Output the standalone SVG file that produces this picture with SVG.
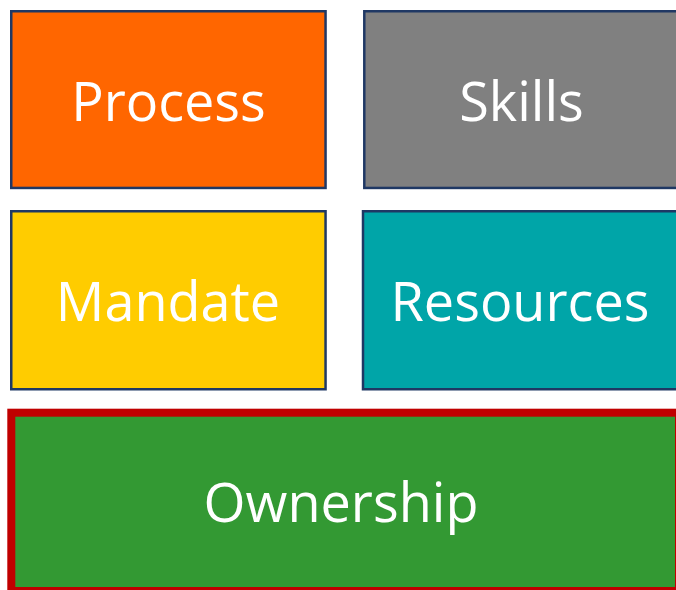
<svg xmlns="http://www.w3.org/2000/svg" width="676" height="590" viewBox="0 0 676 590">
<style>
.box{stroke:#1F3864;stroke-width:2.5}
.lbl{font-family:"Open Sans","Liberation Sans",sans-serif;font-size:54px;fill:#FFFFFF;text-anchor:middle}
</style>
<rect width="676" height="590" fill="#FFFFFF"/>
<g id="process">
<rect class="box" x="11.25" y="11.25" width="314.3" height="176.7" fill="#FF6600"/>
<text class="lbl" x="168.5" y="121">Process</text>
</g>
<g id="skills">
<rect class="box" x="364.3" y="11.25" width="330" height="176.7" fill="#808080"/>
<text class="lbl" x="521.5" y="121">Skills</text>
</g>
<g id="mandate">
<rect class="box" x="11.25" y="211.25" width="314.3" height="178" fill="#FFCC00"/>
<text class="lbl" x="168" y="321">Mandate</text>
</g>
<g id="resources">
<rect class="box" x="363" y="211.25" width="330" height="178" fill="#00A5A8"/>
<text class="lbl" x="520" y="321">Resources</text>
</g>
<g id="ownership">
<rect x="11.3" y="412.7" width="667.7" height="178.3" fill="#339933" stroke="#C00000" stroke-width="8"/>
<text class="lbl" x="341" y="521.5">Ownership</text>
</g>
<g id="connectors"/>
</svg>
